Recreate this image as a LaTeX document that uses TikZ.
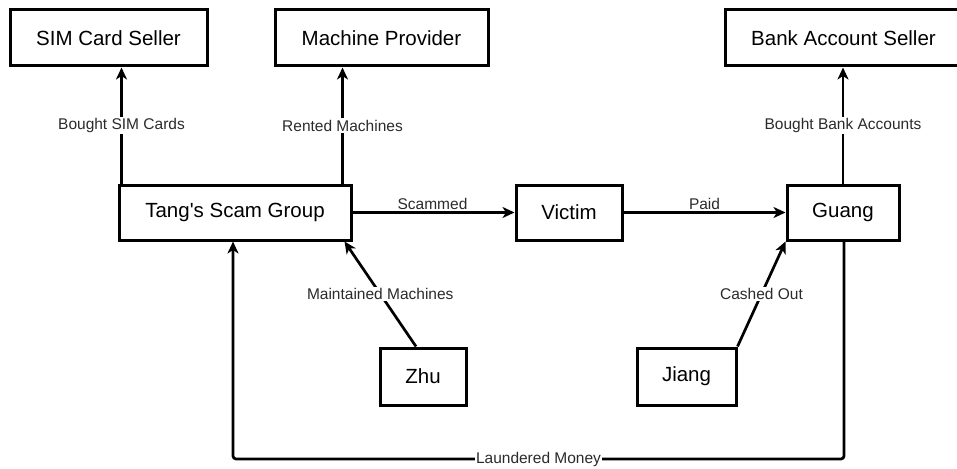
\documentclass[tikz,border=0pt]{standalone}
\usepackage{fontspec}
\setmainfont{Liberation Sans}
\usetikzlibrary{arrows.meta,calc}
\definecolor{lbl}{HTML}{2B2B2B}
\begin{document}
\begin{tikzpicture}[x=1pt,y=-1pt,
  box/.style={draw=black,line width=3pt,minimum height=56pt,inner sep=0pt,font=\fontsize{20.5}{24}\selectfont},
  arr/.style={line width=2.7pt,-{Stealth[length=12pt,width=11pt,inset=3.5pt]}},
  lab/.style={fill=white,text=lbl,inner sep=1.5pt,font=\fontsize{15.5}{18}\selectfont},
  labtop/.style={text=lbl,inner sep=1pt,font=\fontsize{15.5}{18}\selectfont}]
\useasboundingbox (0,0) rectangle (957,468);
\node[box,minimum width=197pt] (sim) at (108.5,38) {SIM Card Seller};
\node[box,minimum width=213pt] (mach) at (381.5,38) {Machine Provider};
\node[box,minimum width=237pt] (bank) at (843.5,38) {Bank Account Seller};
\node[box,minimum width=232pt,minimum height=55pt] (tang) at (235,212.5) {Tang\textquotesingle s Scam Group};
\node[box,minimum width=106pt,minimum height=55pt] (victim) at (569,212.5) {Victim};
\node[box,minimum width=112pt,minimum height=55pt] (guang) at (843,212.5) {Guang};
\node[box,minimum width=86pt,minimum height=57pt] (zhu) at (423,376.5) {Zhu};
\node[box,minimum width=99pt,minimum height=57pt] (jiang) at (686.5,376.5) {Jiang};
\coordinate (low) at (0,459);
\draw[arr] ([xshift=4pt]tang.north west) -- node[lab]{Bought SIM Cards} ([xshift=4pt]tang.north west |- sim.south);
\draw[arr] ([xshift=-10pt]tang.north east) -- node[lab]{Rented Machines} ([xshift=-10pt]tang.north east |- mach.south);
\draw[arr] (guang.north) -- node[lab]{Bought Bank Accounts} (guang.north |- bank.south);
\draw[arr] (tang.east) -- node[labtop,above,xshift=-1pt,yshift=0.5pt]{Scammed} (victim.west);
\draw[arr] (victim.east) -- node[labtop,above,yshift=0.5pt]{Paid} (guang.west);
\draw[arr] ([xshift=-7pt]zhu.north) -- node[lab]{Maintained Machines} ([xshift=-8pt]tang.south east);
\draw[arr] (jiang.north east) -- node[lab]{Cashed Out} (guang.south west);
\draw[arr,rounded corners=3pt] ([xshift=1pt]guang.south) -- ([xshift=1pt]guang.south |- low) -- node[lab,inner sep=1pt]{Laundered Money} ([xshift=-2pt]tang.south |- low) -- ([xshift=-2pt]tang.south);
\end{tikzpicture}
\end{document}
